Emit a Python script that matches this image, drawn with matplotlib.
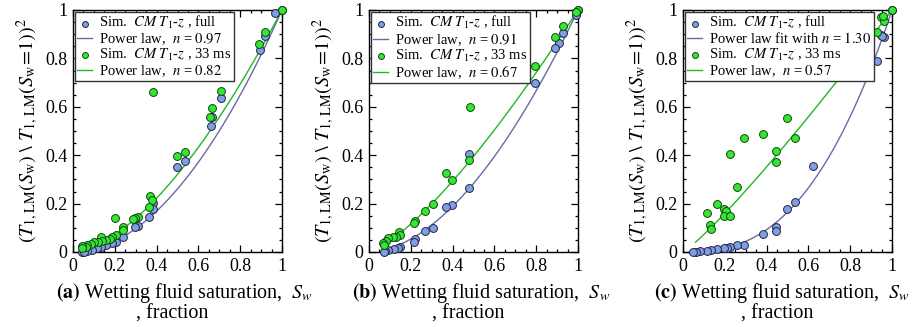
import numpy as np
import matplotlib
matplotlib.use("Agg")
import matplotlib.pyplot as plt
from matplotlib.ticker import MultipleLocator, FuncFormatter

plt.rcParams['font.family'] = ['Liberation Serif', 'DejaVu Serif']
plt.rcParams['mathtext.fontset'] = 'stix'

# ---------------- data ----------------
# Panel (a)
a_full_x = [1.0, 0.966, 0.917, 0.894, 0.710, 0.667, 0.659, 0.535, 0.497, 0.381, 0.381, 0.365,
            0.311, 0.295, 0.237, 0.205, 0.186, 0.157, 0.136, 0.117, 0.093, 0.069, 0.045, 0.055]
a_full_y = [1.0, 0.989, 0.894, 0.835, 0.636, 0.559, 0.521, 0.376, 0.353, 0.201, 0.176, 0.146,
            0.107, 0.105, 0.063, 0.043, 0.038, 0.029, 0.022, 0.015, 0.008, 0.004, 0.0, 0.002]
a_33_x = [1.0, 0.918, 0.891, 0.710, 0.665, 0.657, 0.535, 0.497, 0.381, 0.367, 0.376, 0.365,
          0.312, 0.298, 0.288, 0.199, 0.237, 0.239, 0.205, 0.186, 0.176, 0.160, 0.133, 0.141,
          0.120, 0.101, 0.088, 0.069, 0.061, 0.042, 0.045]
a_33_y = [1.0, 0.909, 0.858, 0.667, 0.596, 0.556, 0.413, 0.397, 0.662, 0.233, 0.215, 0.187,
          0.146, 0.142, 0.138, 0.140, 0.102, 0.092, 0.069, 0.063, 0.054, 0.050, 0.063, 0.045,
          0.043, 0.043, 0.032, 0.029, 0.022, 0.023, 0.015]
a_n_full, a_n_33 = 0.97, 0.82

# Panel (b)
b_full_x = [1.0, 0.99, 0.926, 0.907, 0.891, 0.792, 0.478, 0.479, 0.397, 0.370, 0.306, 0.266,
            0.221, 0.213, 0.149, 0.141, 0.118, 0.093, 0.077, 0.072]
b_full_y = [1.0, 0.979, 0.904, 0.862, 0.842, 0.697, 0.406, 0.264, 0.194, 0.187, 0.098, 0.088,
            0.052, 0.043, 0.021, 0.015, 0.012, 0.008, 0.004, 0.002]
b_33_x = [1.0, 0.99, 0.926, 0.891, 0.792, 0.481, 0.478, 0.369, 0.397, 0.306, 0.266, 0.221,
          0.213, 0.144, 0.149, 0.128, 0.114, 0.093, 0.082, 0.069, 0.072]
b_33_y = [1.0, 0.99, 0.935, 0.890, 0.769, 0.600, 0.379, 0.325, 0.298, 0.200, 0.171, 0.129,
          0.118, 0.084, 0.070, 0.063, 0.061, 0.056, 0.047, 0.036, 0.029]
b_n_full, b_n_33 = 0.91, 0.67

# Panel (c)
c_full_x = [1.0, 0.947, 0.960, 0.953, 0.928, 0.622, 0.534, 0.499, 0.447, 0.447, 0.381, 0.290,
            0.260, 0.223, 0.210, 0.194, 0.163, 0.132, 0.114, 0.082, 0.063, 0.050]
c_full_y = [1.0, 0.897, 0.887, 0.893, 0.789, 0.357, 0.208, 0.178, 0.105, 0.087, 0.074, 0.029,
            0.029, 0.019, 0.016, 0.015, 0.011, 0.007, 0.006, 0.004, 0.002, 0.001]
c_33_x = [1.0, 0.947, 0.963, 0.955, 0.928, 0.499, 0.535, 0.447, 0.446, 0.381, 0.290, 0.223,
          0.260, 0.163, 0.114, 0.194, 0.207, 0.197, 0.223, 0.130, 0.135]
c_33_y = [1.0, 0.972, 0.956, 0.975, 0.910, 0.552, 0.472, 0.419, 0.373, 0.488, 0.470, 0.405,
          0.270, 0.197, 0.160, 0.176, 0.171, 0.150, 0.150, 0.110, 0.094]
c_n_full, c_n_33 = 1.30, 0.57

panels = [
    dict(tag='(a)', fx=a_full_x, fy=a_full_y, gx=a_33_x, gy=a_33_y, nf=a_n_full, ng=a_n_33,
         lf='Power law,  ', start_f=0.045, start_g=0.04, xl=(185, 172)),
    dict(tag='(b)', fx=b_full_x, fy=b_full_y, gx=b_33_x, gy=b_33_y, nf=b_n_full, ng=b_n_33,
         lf='Power law,  ', start_f=0.065, start_g=0.065, xl=(481, 468)),
    dict(tag='(c)', fx=c_full_x, fy=c_full_y, gx=c_33_x, gy=c_33_y, nf=c_n_full, ng=c_n_33,
         lf='Power law fit with ', start_f=0.05, start_g=0.06, xl=(782, 777)),
]

blue_fill = '#7f9fe3'
green_fill = '#33e833'
blue_line = '#6a6aa8'
green_line = '#22b822'

fig = plt.figure(figsize=(9.14, 3.27), dpi=100)
lefts = [73, 369, 683]
W, H = 914, 327

ylabel = r'$(T_{\mathrm{1,LM}}(S_{\mathrm{w}})\ \backslash\ T_{\mathrm{1,\,LM}}(S_{\mathrm{w}}\!=\!1))^2$'

for p, lpx in zip(panels, lefts):
    ax = fig.add_axes([lpx / W, 1 - 252 / H, 209 / W, 242 / H])
    xf = np.linspace(p['start_f'], 1, 200)
    xg = np.linspace(p['start_g'], 1, 200)
    ax.scatter(p['fx'], p['fy'], s=32, c=blue_fill, edgecolors='#222244', linewidths=0.7,
               zorder=3, clip_on=False, label=r'Sim.  $CM\ T_{\mathit{1}}$-$z$ , full')
    ax.plot(xf, xf ** (2 * p['nf']), color=blue_line, lw=1.0, zorder=2,
            label=p['lf'] + r'$n$ = $\mathit{%.2f}$' % p['nf'])
    ax.scatter(p['gx'], p['gy'], s=32, c=green_fill, edgecolors='#114411', linewidths=0.7,
               zorder=4, clip_on=False, label=r'Sim.  $CM\ T_{\mathit{1}}$-$z$ , 33 ms')
    ax.plot(xg, xg ** (2 * p['ng']), color=green_line, lw=1.0, zorder=2,
            label=r'Power law,  $n$ = $\mathit{%.2f}$' % p['ng'])
    ax.set_xlim(0, 1)
    ax.set_ylim(0, 1)
    ax.xaxis.set_major_locator(MultipleLocator(0.2))
    ax.yaxis.set_major_locator(MultipleLocator(0.2))
    ax.xaxis.set_minor_locator(MultipleLocator(0.05))
    ax.yaxis.set_minor_locator(MultipleLocator(0.05))
    fmt = FuncFormatter(lambda v, pos: '%g' % round(v, 2))
    ax.xaxis.set_major_formatter(fmt)
    ax.yaxis.set_major_formatter(fmt)
    ax.tick_params(which='both', direction='in', top=True, right=True, labelsize=13, width=0.9)
    ax.tick_params(which='major', length=5, pad=4)
    ax.tick_params(which='minor', length=2.5)
    for s in ax.spines.values():
        s.set_linewidth(1.0)
    ax.set_ylabel(ylabel, fontsize=14.5, labelpad=3)
    leg = ax.legend(loc='upper left', fontsize=10.5, frameon=True, fancybox=False,
                    edgecolor='#333333', framealpha=1, handlelength=1.0, handletextpad=0.5,
                    borderpad=0.15, labelspacing=0.0, borderaxespad=0.15, scatterpoints=1,
                    markerscale=0.75)
    leg.get_frame().set_linewidth(1.0)
    fig.text(p['xl'][0] / W, 1 - 293 / H,
             r'$\mathbf{%s}$ Wetting fluid saturation,  $S_w$' % p['tag'],
             ha='center', va='center', fontsize=14.5)
    fig.text(p['xl'][1] / W, 1 - 314 / H, ', fraction', ha='center', va='center', fontsize=14.5)

fig.savefig('out.png', dpi=100)
